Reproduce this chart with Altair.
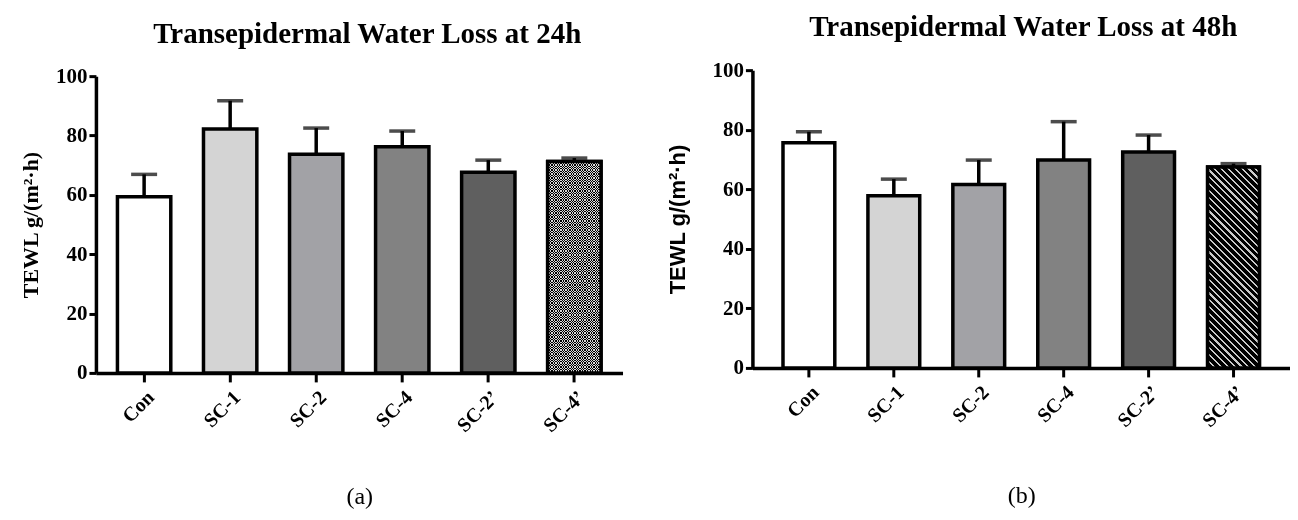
import altair as alt
import pandas as pd

categories = ["Con", "SC-1", "SC-2", "SC-4", "SC-2’", "SC-4’"]
tewl_24h = [59.4, 82.2, 73.7, 76.2, 67.6, 71.2]
err_24h = [7.5, 9.5, 8.8, 5.3, 4.1, 1.2]
tewl_48h = [75.6, 57.8, 61.6, 69.8, 72.5, 67.5]
err_48h = [3.7, 5.6, 8.2, 12.9, 5.7, 1.1]
bar_colors = ["#ffffff", "#d4d4d4", "#a2a2a6", "#828282", "#5f5f5f", "#000000"]
y_ticks = [0, 20, 40, 60, 80, 100]

SERIF = "Liberation Serif"
SANS = "Liberation Sans"


def stripes(n, c_a, c_b, frac_a=0.5):
    stops = []
    for i in range(n):
        s = i / n
        m = (i + frac_a) / n
        e = (i + 1) / n
        stops += [{"offset": s, "color": c_a}, {"offset": m, "color": c_a},
                  {"offset": m, "color": c_b}, {"offset": e, "color": c_b}]
    return stops


def panel(values, errs, title, title_offset, title_dx, ytitle_font, ytitle_pad,
          caption, caption_pad, width, height, top_gap, p_inner, p_outer, pattern):
    df = pd.DataFrame({
        "group": categories,
        "value": values,
        "upper": [v + e for v, e in zip(values, errs)],
    })
    n = len(categories)
    step = width / (n - p_inner + 2 * p_outer)
    bw = step * (1 - p_inner)
    last_h = values[-1] / 100 * (height - top_gap)

    xenc = alt.X(
        "group:N", sort=categories,
        scale=alt.Scale(paddingInner=p_inner, paddingOuter=p_outer),
        axis=alt.Axis(
            title=caption, labelAngle=-45, labelFont=SERIF, labelFontSize=20,
            labelFontWeight="bold", labelColor="black", labelPadding=5,
            tickSize=9, tickWidth=3, tickColor="black",
            domainWidth=3.5, domainColor="black",
            titleFont=SERIF, titleFontSize=24, titleFontWeight="normal",
            titleColor="black", titlePadding=caption_pad,
        ),
    )
    yenc = alt.Y(
        "value:Q", scale=alt.Scale(domain=[0, 100], range=[height, top_gap]),
        axis=alt.Axis(
            values=y_ticks, title="TEWL g/(m²·h)", grid=False,
            labelFont=SERIF, labelFontSize=21, labelFontWeight="bold",
            labelColor="black", labelPadding=2,
            tickSize=7, tickWidth=3, tickColor="black",
            domainWidth=3.5, domainColor="black",
            titleFont=ytitle_font, titleFontSize=22, titleFontWeight="bold",
            titleColor="black", titlePadding=ytitle_pad,
        ),
    )
    base = alt.Chart(df).encode(x=xenc)
    bars = base.mark_bar(stroke="black", strokeWidth=3.5).encode(
        y=yenc,
        fill=alt.Fill("group:N", scale=alt.Scale(domain=categories, range=bar_colors), legend=None),
    )
    rule = base.mark_rule(strokeWidth=3.5, color="black").encode(y="value:Q", y2="upper:Q")
    cap = base.mark_tick(size=26, thickness=3.5, color="black").encode(y="upper:Q")

    last = base.transform_filter(alt.datum.group == categories[-1])
    layers = [bars, rule, cap]
    if pattern == "checker":
        nx = max(2, round(bw / 2.6))
        ny = max(2, round(last_h / 2.6))
        ga = {"gradient": "linear", "x1": 0, "y1": 0, "x2": 1, "y2": 0,
              "stops": stripes(nx, "#dadada", "#000000")}
        gb = {"gradient": "linear", "x1": 0, "y1": 0, "x2": 0, "y2": 1,
              "stops": stripes(ny, "#000000", "#dadada")}
        layers.append(last.mark_bar(fill=ga, strokeWidth=0).encode(y="value:Q"))
        layers.append(last.mark_bar(fill=gb, strokeWidth=0, blend="difference").encode(y="value:Q"))
    else:
        r = last_h / bw
        dx = (1 + r) / (1 + r * r)
        dist = (bw + last_h) / 2 ** 0.5
        ns = max(2, round(dist / 4.8))
        gh = {"gradient": "linear", "x1": 0, "y1": 1, "x2": dx, "y2": 1 - dx * r,
              "stops": stripes(ns, "#cacaca", "#000000", 0.33)}
        layers.append(last.mark_bar(fill=gh, strokeWidth=0).encode(y="value:Q"))
    layers.append(last.mark_bar(fill="transparent", stroke="black", strokeWidth=3.5).encode(y="value:Q"))

    return alt.layer(*layers).properties(
        width=width, height=height,
        title=alt.TitleParams(title, font=SERIF, fontSize=29, fontWeight="bold",
                              color="black", offset=title_offset, dx=title_dx),
    )


left = panel(tewl_24h, err_24h, "Transepidermal Water Loss at 24h", 16, 8, SERIF, 13,
             "(a)", 49, 527, 303, 6, 0.38, 0.25, "checker")
right = panel(tewl_48h, err_48h, "Transepidermal Water Loss at 48h", 17, 2, SANS, 22,
              "(b)", 53, 538, 298, 0, 0.39, 0.36, "hatch")

chart = alt.hconcat(left, right, spacing=44).properties(
    padding={"left": 11, "top": 5, "right": 0, "bottom": 0},
    background="white",
).configure_view(stroke=None)

chart.save("out.html", embed_options={"renderer": "svg", "actions": False})
